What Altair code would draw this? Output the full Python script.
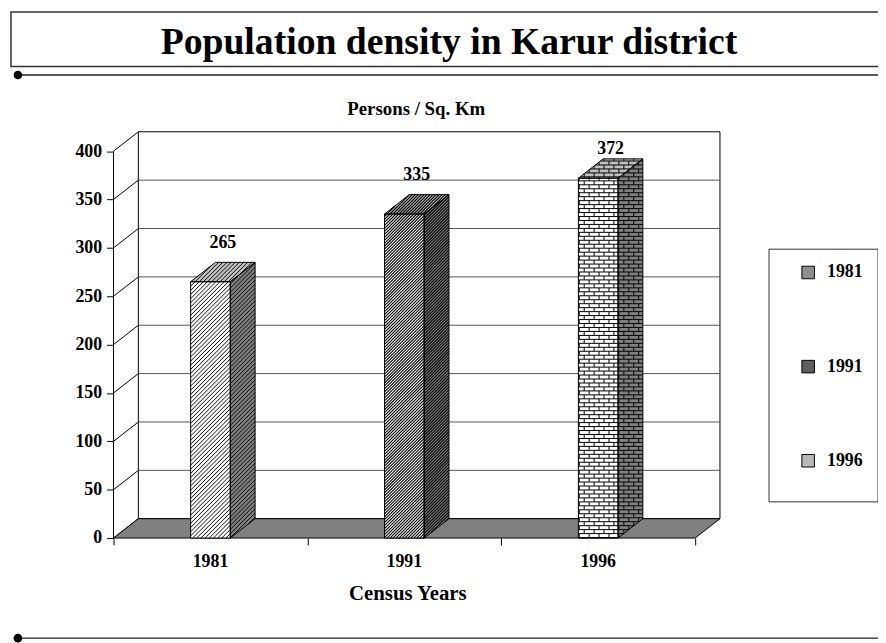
import math
import altair as alt
import pandas as pd

# ---------------- data ----------------
title_text = "Population density in Karur district"
y_title = "Persons / Sq. Km"
x_title = "Census Years"
categories = ["1981", "1991", "1996"]
density = [265, 335, 372]
y_ticks = [0, 50, 100, 150, 200, 250, 300, 350, 400]
legend_grays = ["#8e8e8e", "#5e5e5e", "#b8b8b8"]

# ---------------- geometry / style ----------------
SERIF = "Liberation Serif"
W, H = 612, 410
DX, DY = 0.128, 20                     # oblique depth, in data units
X_MAX = len(categories) + DX
Y_MAX = max(y_ticks) + DY
PX_X = W / X_MAX
PX_Y = H / Y_MAX
BW = 40 / PX_X                          # bar width in band units
DXPX = DX * PX_X
DYPX = DY * PX_Y
CLEAR = "rgba(0,0,0,0)"
FACE_BASE = {"front": "white", "side": "#808080", "top": "#c0c0c0"}

xs = alt.Scale(domain=[0, X_MAX], nice=False, zero=False)
ys = alt.Scale(domain=[0, Y_MAX], nice=False, zero=False)

y_axis = alt.Axis(values=y_ticks, domain=False, grid=False, ticks=True, tickSize=7,
                  tickColor="black", labelColor="black", labelFont=SERIF, labelFontSize=18,
                  labelFontWeight="bold", labelPadding=5, labelFlush=False,
                  title=y_title, titleAngle=0, titleX=305, titleY=-17, titleAlign="center",
                  titleBaseline="alphabetic", titleFont=SERIF, titleFontSize=19,
                  titleFontWeight="bold", titleColor="black")
x_axis = alt.Axis(values=list(range(len(categories) + 1)), domain=False, grid=False,
                  labels=False, tickSize=7, tickColor="black",
                  title=x_title, titleX=296.5, titleY=62, titleAlign="center",
                  titleBaseline="alphabetic", titleFont=SERIF, titleFontSize=21,
                  titleFontWeight="bold", titleColor="black")


def XQ(f):
    return alt.X(f, type="quantitative", scale=xs, axis=x_axis)


def YQ(f):
    return alt.Y(f, type="quantitative", scale=ys, axis=y_axis)


# ---------- hatch texture helpers (clipped line families, in pixel space) ----------
def clip_line(poly, fa, fb, c):
    fs = [fa * X + fb * Y for X, Y in poly]
    pts = []
    n = len(poly)
    for i in range(n):
        j = (i + 1) % n
        fi, fj = fs[i], fs[j]
        if (fi - c) * (fj - c) <= 0 and fi != fj:
            t = (c - fi) / (fj - fi)
            pts.append((poly[i][0] + t * (poly[j][0] - poly[i][0]),
                        poly[i][1] + t * (poly[j][1] - poly[i][1])))
    best, bd = None, 0.3
    for a in range(len(pts)):
        for b in range(a + 1, len(pts)):
            d = math.dist(pts[a], pts[b])
            if d > bd:
                best, bd = (pts[a], pts[b]), d
    return best


def family(poly, fa, fb, spacing, phase):
    fs = [fa * X + fb * Y for X, Y in poly]
    lo, hi = min(fs), max(fs)
    k = math.ceil((lo - phase) / spacing)
    segs = []
    while phase + k * spacing < hi:
        s = clip_line(poly, fa, fb, phase + k * spacing)
        if s:
            segs.append(s)
        k += 1
    return segs


def diag_hatch(poly, spacing):
    return family(poly, 1.0, -1.0, spacing, 0.0)


def brick_hatch(poly, R=4.0, L=10.0):
    segs = family(poly, 0.0, 1.0, R, 0.5)
    ys_ = [Y for _, Y in poly]
    xs_ = [X for X, _ in poly]
    k = math.floor((min(ys_) - 0.5) / R)
    while 0.5 + k * R < max(ys_):
        b0, b1 = 0.5 + k * R, 0.5 + (k + 1) * R
        ph = 0.0 if k % 2 == 0 else L / 2
        m = math.ceil((min(xs_) - ph) / L)
        while ph + m * L < max(xs_):
            s = clip_line(poly, 1.0, 0.0, ph + m * L)
            if s:
                ya, yb = sorted([s[0][1], s[1][1]])
                ya, yb = max(ya, b0), min(yb, b1)
                if yb - ya > 0.3:
                    X = s[0][0]
                    segs.append(((X, ya), (X, yb)))
            m += 1
        k += 1
    return segs


def segs_df(segs):
    return pd.DataFrame({"hx": [a[0] / PX_X for a, b in segs], "hx2": [b[0] / PX_X for a, b in segs],
                         "hy": [a[1] / PX_Y for a, b in segs], "hy2": [b[1] / PX_Y for a, b in segs]})


def rect_layer(df, fill, stroke=None):
    kw = {"fill": fill}
    if stroke:
        kw.update(stroke=stroke, strokeWidth=1)
    return alt.Chart(df).mark_rect(**kw).encode(x=XQ("x0"), x2="x1:Q", y=YQ("y0"), y2="y1:Q")


def varea_layer(df, fill, stroke=None):
    kw = {"fill": fill, "orient": "vertical"}
    if stroke:
        kw.update(stroke=stroke, strokeWidth=1)
    return alt.Chart(df).mark_area(**kw).encode(x=XQ("x"), y=YQ("lo"), y2="hi:Q")


def harea_layer(df, fill, stroke=None):
    kw = {"fill": fill, "orient": "horizontal"}
    if stroke:
        kw.update(stroke=stroke, strokeWidth=1)
    return alt.Chart(df).mark_area(**kw).encode(y=YQ("y"), x=XQ("xa"), x2="xb:Q")


patterns = [
    {"kind": "diag", "spacing": 4.2, "width": 0.95},
    {"kind": "diag", "spacing": 3.0, "width": 1.1},
    {"kind": "brick", "width": 1.0},
]

layers = []

# back wall frame
wall_df = pd.DataFrame({"x0": [DX], "x1": [X_MAX], "y0": [DY], "y1": [Y_MAX]})
layers.append(rect_layer(wall_df, "white", stroke="black"))

# legend carrier (invisible marks)
leg_df = pd.DataFrame({"year": categories, "lx": [1.5] * 3, "ly": [DY / 2] * 3})
layers.append(alt.Chart(leg_df).mark_square(size=10, fillOpacity=0, strokeOpacity=0).encode(
    x=XQ("lx"), y=YQ("ly"),
    fill=alt.Fill("year:N", scale=alt.Scale(domain=categories, range=legend_grays),
                  legend=alt.Legend(orient="none", legendX=661, legendY=118, title=" ",
                                    titleOrient="bottom", titleFontSize=13, titlePadding=4,
                                    padding=15, symbolOffset=16, rowPadding=77,
                                    symbolType="square", symbolSize=160,
                                    symbolStrokeColor="black", symbolStrokeWidth=1,
                                    symbolOpacity=1, labelOffset=10,
                                    labelFont=SERIF, labelFontSize=18, labelFontWeight="bold",
                                    labelColor="black", strokeColor="#333333",
                                    fillColor="white"))))

# back wall gridlines
grid_df = pd.DataFrame({"v": y_ticks[1:-1]})
grid_df["vb"] = grid_df["v"] + DY
grid_df["gx0"] = DX
grid_df["gx1"] = X_MAX
layers.append(alt.Chart(grid_df).mark_rule(color="#555555", strokeWidth=1).encode(
    x=XQ("gx0"), x2="gx1:Q", y=YQ("vb")))

# side wall diagonals
diag_df = pd.DataFrame({"v": y_ticks})
diag_df["vb"] = diag_df["v"] + DY
diag_df["d0"] = 0.0
diag_df["d1"] = DX
layers.append(alt.Chart(diag_df).mark_rule(color="black", strokeWidth=1).encode(
    x=XQ("d0"), x2="d1:Q", y=YQ("v"), y2="vb:Q"))

# floor
floor_df = pd.DataFrame({"y": [0, DY], "xa": [0, DX], "xb": [len(categories), X_MAX]})
layers.append(harea_layer(floor_df, "#808080", stroke="black"))

# front value axis line
vline_df = pd.DataFrame({"ax": [0.0], "a0": [min(y_ticks)], "a1": [max(y_ticks)]})
layers.append(alt.Chart(vline_df).mark_rule(color="black", strokeWidth=1).encode(
    x=XQ("ax"), y=YQ("a0"), y2="a1:Q"))

# 3-D bars
for i, (cat, val) in enumerate(zip(categories, density)):
    pat = patterns[i]
    cx = i + 0.5
    xl, xr = cx - BW / 2, cx + BW / 2
    side_df = pd.DataFrame({"x": [xr, xr + DX], "lo": [0.0, DY], "hi": [val, val + DY]})
    top_df = pd.DataFrame({"y": [val, val + DY], "xa": [xl, xl + DX], "xb": [xr, xr + DX]})
    front_df = pd.DataFrame({"x0": [xl], "x1": [xr], "y0": [0.0], "y1": [val]})
    layers.append(varea_layer(side_df, FACE_BASE["side"]))
    layers.append(harea_layer(top_df, FACE_BASE["top"]))
    layers.append(rect_layer(front_df, FACE_BASE["front"]))
    XL, XR, V = xl * PX_X, xr * PX_X, val * PX_Y
    polys = [
        [(XL, 0), (XR, 0), (XR, V), (XL, V)],
        [(XR, 0), (XR + DXPX, DYPX), (XR + DXPX, V + DYPX), (XR, V)],
        [(XL, V), (XR, V), (XR + DXPX, V + DYPX), (XL + DXPX, V + DYPX)],
    ]
    segs = []
    for poly in polys:
        if pat["kind"] == "diag":
            segs += diag_hatch(poly, pat["spacing"])
        else:
            segs += brick_hatch(poly)
    layers.append(alt.Chart(segs_df(segs)).mark_rule(color="black", strokeWidth=pat["width"]).encode(
        x=XQ("hx"), x2="hx2:Q", y=YQ("hy"), y2="hy2:Q"))
    layers.append(varea_layer(side_df, CLEAR, stroke="black"))
    layers.append(harea_layer(top_df, CLEAR, stroke="black"))
    layers.append(rect_layer(front_df, CLEAR, stroke="black"))

# value labels
lab_df = pd.DataFrame({"year": categories, "density": density, "i": list(range(len(categories)))})
layers.append(alt.Chart(lab_df).transform_calculate(
    lx=f"datum.i + 0.5 + {DX / 2}", ly="min(datum.density + 35, 397)"
).mark_text(font=SERIF, fontSize=18, fontWeight="bold", color="black", baseline="alphabetic",
            align="center").encode(x=XQ("lx"), y=YQ("ly"), text="density:Q"))

# category labels
layers.append(alt.Chart(lab_df).transform_calculate(
    cx="datum.i + 0.5", cy="0"
).mark_text(font=SERIF, fontSize=18, fontWeight="bold", color="black", baseline="alphabetic",
            align="center", dy=29).encode(x=XQ("cx"), y=YQ("cy"), text="year:N"))

# slide decorations (pixel positions relative to plot origin)
title_df = pd.DataFrame({"t": [title_text]})
layers.append(alt.Chart(title_df).mark_rect(fill="white", stroke="#333333", strokeWidth=1.5).encode(
    x=alt.value(-103.5), x2=alt.value(790), y=alt.value(-121), y2=alt.value(-66)))
layers.append(alt.Chart(title_df).mark_text(font=SERIF, fontSize=38, fontWeight="bold",
                                            color="black", align="center",
                                            baseline="alphabetic").encode(
    x=alt.value(338.5), y=alt.value(-78), text="t:N"))
for yy in (-57.3, 511.0):
    layers.append(alt.Chart(title_df).mark_rule(color="#222222", strokeWidth=1.5).encode(
        x=alt.value(-96.5), x2=alt.value(790), y=alt.value(yy)))
    layers.append(alt.Chart(title_df).mark_circle(size=75, color="black", opacity=1).encode(
        x=alt.value(-96.5), y=alt.value(yy)))

chart = alt.layer(*layers).properties(
    width=W, height=H,
    padding={"left": 106.5, "top": 122, "right": 159.5, "bottom": 103},
    autosize=alt.AutoSizeParams(type="none"),
    background="white",
).configure_view(stroke=None)

chart.save("out.html", embed_options={"renderer": "svg", "actions": False})
